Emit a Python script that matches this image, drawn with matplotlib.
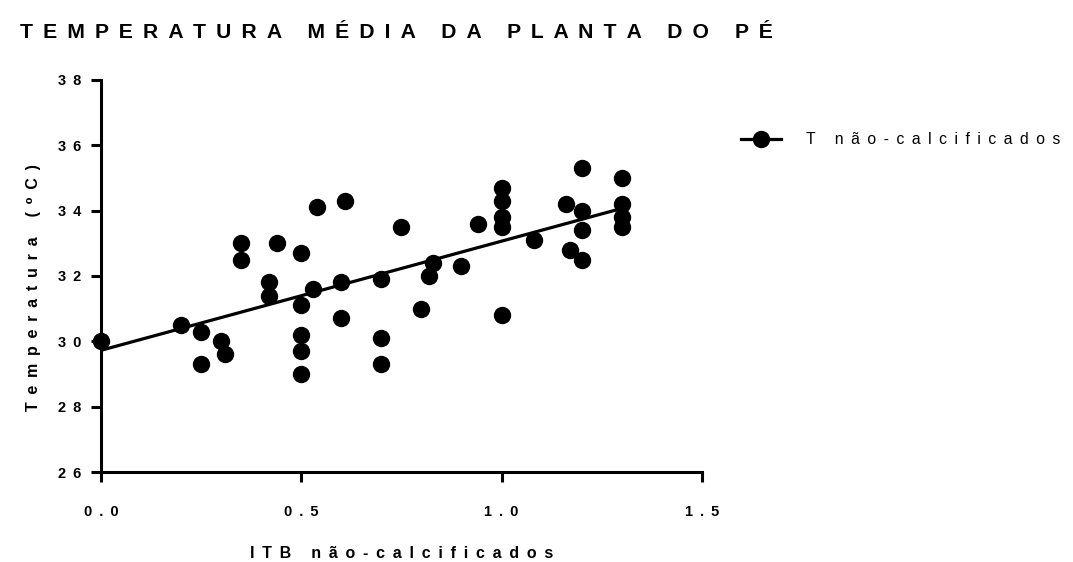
import numpy as np
import matplotlib
matplotlib.use('Agg')
import matplotlib.pyplot as plt

plt.rcParams['font.family'] = ['Liberation Sans', 'DejaVu Sans']

# ITB (x) vs temperatura (y)
itb = [0.0, 0.2, 0.25, 0.25, 0.3, 0.31, 0.35, 0.35, 0.42, 0.42, 0.44,
       0.5, 0.5, 0.5, 0.5, 0.5, 0.53, 0.54, 0.6, 0.6, 0.61,
       0.7, 0.7, 0.7, 0.75, 0.8, 0.82, 0.83, 0.9, 0.94,
       1.0, 1.0, 1.0, 1.0, 1.0, 1.08, 1.16, 1.17,
       1.2, 1.2, 1.2, 1.2, 1.3, 1.3, 1.3, 1.3]
temp = [30.0, 30.5, 30.3, 29.3, 30.0, 29.6, 33.0, 32.5, 31.8, 31.4, 33.0,
        32.7, 31.1, 30.2, 29.7, 29.0, 31.6, 34.1, 31.8, 30.7, 34.3,
        31.9, 30.1, 29.3, 33.5, 31.0, 32.0, 32.4, 32.3, 33.6,
        34.7, 34.3, 33.8, 33.5, 30.8, 33.1, 34.2, 32.8,
        35.3, 34.0, 33.4, 32.5, 35.0, 34.2, 33.8, 33.5]

xticks = [0.0, 0.5, 1.0, 1.5]
yticks = [26, 28, 30, 32, 34, 36, 38]

title = 'TEMPERATURA MÉDIA DA PLANTA DO PÉ'
xlabel = 'ITB não-calcificados'
ylabel = 'Temperatura (\u2070C)'
series_name = 'T não-calcificados'

GAP = ' \u2009'


def spaced(s):
    # fake letter spacing (matplotlib has no tracking option)
    return GAP.join(s)


fig = plt.figure(figsize=(10.73, 5.62), dpi=100)
ax = fig.add_axes([0.0941, 0.160, 0.560, 0.698])

x = np.array(itb)
y = np.array(temp)
slope, intercept = np.polyfit(x, y, 1)
xf = np.array([x.min(), x.max()])

ax.plot(xf, intercept + slope * xf, color='black', lw=2.3, zorder=2)
ax.plot(x, y, 'o', color='black', ms=11.5, zorder=3, clip_on=False)
# legend proxy (line + marker)
ax.plot([], [], '-o', color='black', lw=2.3, ms=11.5, label=spaced(series_name))

ax.set_xlim(0, 1.5)
ax.set_ylim(26, 38)
ax.set_xticks(xticks)
ax.set_yticks(yticks)
ax.set_xticklabels([spaced(f'{v:.1f}') for v in xticks], fontweight='bold', fontsize=10.5)
ax.set_yticklabels([spaced(str(v)) for v in yticks], fontweight='bold', fontsize=10.5)
ax.tick_params(width=2.2, length=7)
ax.tick_params(axis='x', pad=17)
ax.tick_params(axis='y', pad=7)

for s in ['top', 'right']:
    ax.spines[s].set_visible(False)
for s in ['left', 'bottom']:
    ax.spines[s].set_linewidth(2.2)

ax.set_xlabel(spaced(xlabel), fontweight='bold', fontsize=11.5, labelpad=19)
ax.set_ylabel(spaced(ylabel), fontweight='bold', fontsize=11.5)
ax.yaxis.set_label_coords(-0.1, 0.47)

fig.text(20 / 1073, 1 - 38 / 562, spaced(title), fontweight='bold', fontsize=15.2,
         ha='left', va='baseline')

ax.legend(loc='center left', bbox_to_anchor=(735 / 1073, 1 - 140 / 562),
          bbox_transform=fig.transFigure, frameon=False, fontsize=11.3,
          borderaxespad=0, handlelength=2.5, handletextpad=1.6)

fig.savefig('out.png', dpi=100)
